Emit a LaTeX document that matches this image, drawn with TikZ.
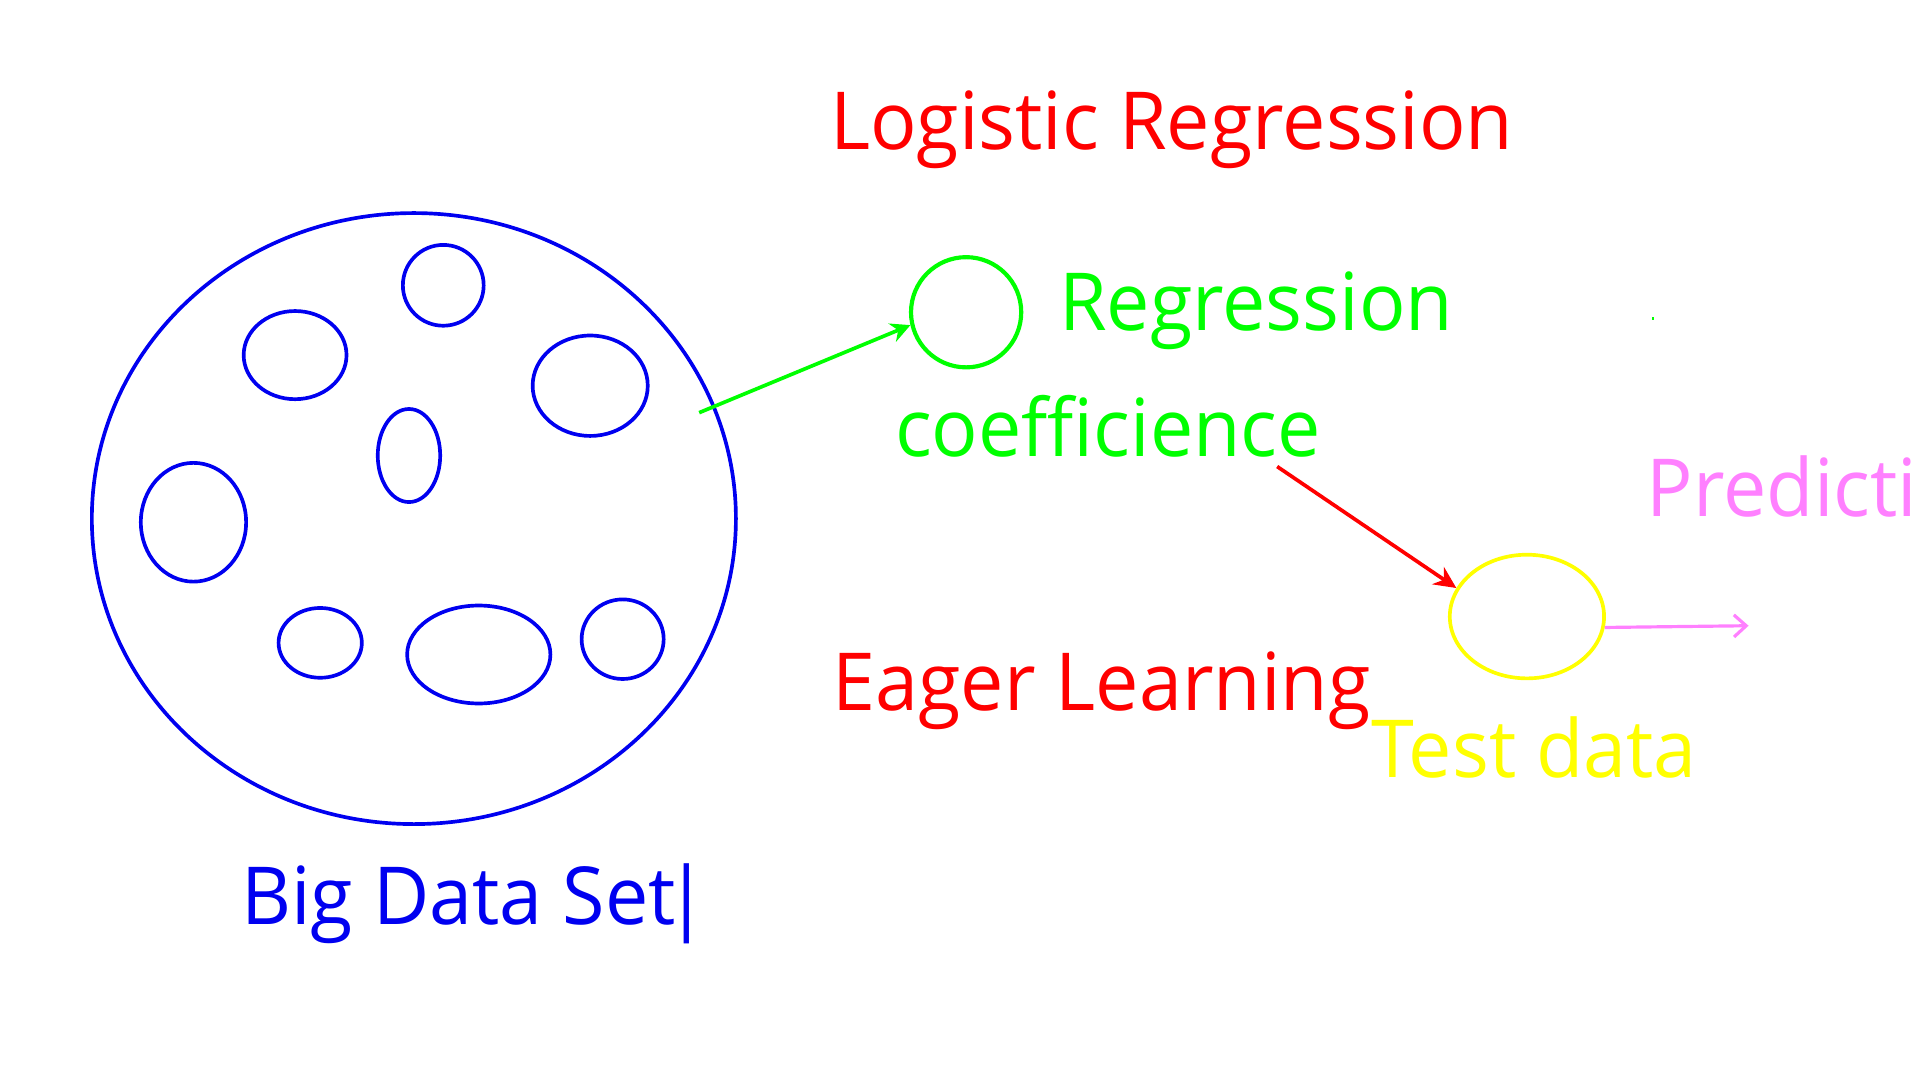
\documentclass[tikz,border=0pt]{standalone}
\usepackage{fontspec}
\setmainfont{Open Sans}
\usetikzlibrary{arrows.meta,shapes.geometric}
\definecolor{cblue}{RGB}{0,0,240}
\definecolor{cred}{RGB}{255,0,0}
\definecolor{cgreen}{RGB}{0,255,0}
\definecolor{cyellow}{RGB}{255,255,0}
\definecolor{cpink}{RGB}{255,128,255}
\begin{document}
\begin{tikzpicture}[x=0.1mm,y=-0.1mm,
  lbl/.style={inner sep=0pt, outer sep=0pt, anchor=base west, xscale=0.965,
              font=\fontsize{18.6}{22}\selectfont},
  blob/.style={draw=cblue, line width=0.3mm},
  blobnode/.style={draw=cblue, line width=0.3mm, ellipse, inner sep=0pt}]
\useasboundingbox[fill=white] (0,0) rectangle (1568,882);

% Big data set
\node[blobnode, minimum width=52.6mm, minimum height=49.9mm] (bds) at (338,423.5) {};
\draw[blob] (362,233) ellipse [x radius=33, y radius=33];
\draw[blob] (241,290) ellipse [x radius=42, y radius=36];
\draw[blob] (482,315) ellipse [x radius=47, y radius=41];
\draw[blob] (334,372) ellipse [x radius=25.5, y radius=38];
\draw[blob] (158,426.5) ellipse [x radius=43, y radius=48.5];
\draw[blob] (261.5,525) ellipse [x radius=34, y radius=28.5];
\draw[blob] (391,534.5) ellipse [x radius=58.5, y radius=40];
\draw[blob] (508.5,522) ellipse [x radius=33.5, y radius=32.5];

% circles
\node[draw=cgreen, line width=0.34mm, circle, minimum size=9mm, inner sep=0pt] (gc) at (789,255) {};
\node[draw=cyellow, line width=0.3mm, ellipse, minimum width=12.6mm, minimum height=10.1mm, inner sep=0pt] (ye) at (1247,503.5) {};

% texts
\node[lbl, text=cred] (lr) at (678,122) {Logistic Regression};
\node[lbl, text=cgreen] (rg) at (865,270) {Regression};
\node[lbl, text=cgreen] (cf) at (731,373) {coefficience};
\node[lbl, text=cpink] (pr) at (1345,422) {Predicti};
\node[lbl, text=cred] (el) at (680,580) {Eager Learning};
\node[lbl, text=cyellow] (td) at (1120,635) {Test data};
\node[lbl, text=cblue] (bl) at (197,755) {Big Data Set\kern-2.5pt|};

% connectors
\coordinate (gs) at (571,337);
\coordinate (rs) at (1043,381);
\coordinate (pe) at (1428,511);
\draw[cgreen, line width=0.3mm, -{Stealth[length=1.6mm,width=1.6mm]}] (gs) -- (gc.193);
\draw[cred, line width=0.3mm, -{Stealth[length=1.8mm,width=1.7mm]}] (rs) -- (ye.158);
\draw[cpink, line width=0.26mm, -{Straight Barb[length=1.0mm,width=1.8mm]}] (ye.-8) -- (pe);

% stray dot
\fill[cgreen] (1349,259) rectangle (1351,261);
\end{tikzpicture}
\end{document}
